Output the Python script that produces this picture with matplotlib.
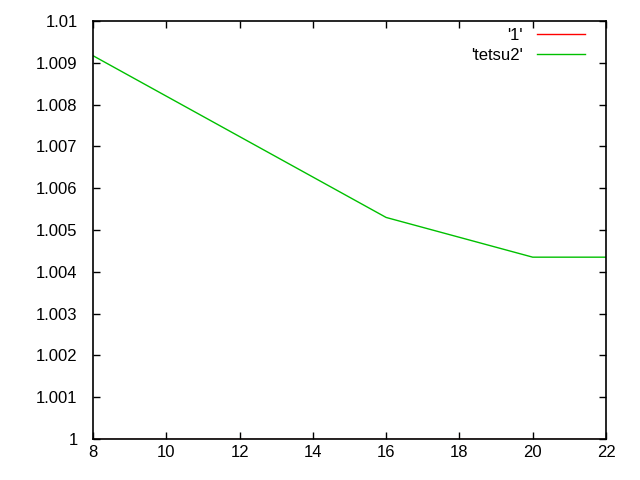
import matplotlib
matplotlib.use('Agg')
import matplotlib.pyplot as plt
from matplotlib.ticker import FuncFormatter, MultipleLocator

plt.rcParams['font.family'] = ['Liberation Sans', 'DejaVu Sans']

x_one = [8, 10, 12, 14, 16, 18, 20, 22]
y_one = [1, 1, 1, 1, 1, 1, 1, 1]

x_tetsu2 = [8, 16, 20, 22]
y_tetsu2 = [1.00917, 1.00530, 1.00435, 1.00435]

fig = plt.figure(figsize=(6.4, 4.8), dpi=100)
ax = fig.add_axes([93 / 640, 41 / 480, 513 / 640, 418 / 480])

ax.plot(x_one, y_one, color='#ff0000', lw=1, label="'1'", snap=True, zorder=1)
ax.plot(x_tetsu2, y_tetsu2, color='#00c000', lw=1, label="'tetsu2'")

ax.set_xlim(8, 22)
ax.set_ylim(1.0, 1.01)
ax.xaxis.set_major_locator(MultipleLocator(2))
ax.yaxis.set_major_locator(MultipleLocator(0.001))
ax.yaxis.set_major_formatter(FuncFormatter(lambda v, p: '%g' % round(v, 4)))
ax.tick_params(direction='in', length=5, width=1, top=True, right=True,
               labelsize=12)
ax.tick_params(axis='x', pad=4)
ax.tick_params(axis='y', pad=11)
for s in ax.spines.values():
    s.set_linewidth(1.2)
    s.set_zorder(5)

ax.legend(loc='upper right', frameon=False, markerfirst=False, fontsize=12,
          handlelength=2.9, handletextpad=0.85, labelspacing=0.3,
          borderpad=0, borderaxespad=0,
          bbox_to_anchor=(585 / 640, (480 - 28) / 480),
          bbox_transform=fig.transFigure)

plt.savefig('out.png', dpi=100)
